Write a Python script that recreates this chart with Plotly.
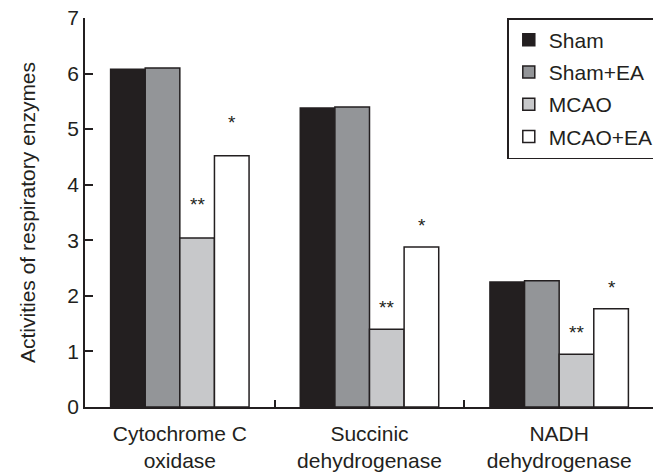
import plotly.graph_objects as go

categories = ["Cytochrome C<br>oxidase", "Succinic<br>dehydrogenase", "NADH<br>dehydrogenase"]
series_names = ["Sham", "Sham+EA", "MCAO", "MCAO+EA"]
sham = [6.08, 5.38, 2.25]
sham_ea = [6.10, 5.40, 2.27]
mcao = [3.04, 1.40, 0.95]
mcao_ea = [4.52, 2.88, 1.77]
mcao_sig = ["**", "**", "**"]
mcao_ea_sig = ["*", "*", "*"]
y_ticks = [0, 1, 2, 3, 4, 5, 6, 7]

colors = ["#231f20", "#939598", "#c7c8ca", "#ffffff"]
ink = "#231f20"
font_family = "Liberation Sans, Arial, sans-serif"
FS = 21

fig = go.Figure()
for name, vals, col in zip(series_names, [sham, sham_ea, mcao, mcao_ea], colors):
    fig.add_trace(go.Bar(
        x=categories, y=vals, name=name,
        marker=dict(color=col, line=dict(color=ink, width=1.5)),
        legendgroup=name,
    ))

# page body has an 8px default margin; size the figure to fit the window
W, H = 653, 466
ml, mr, mt, mb = 77, 2, 10, 67
bargap = 0.27
cat_w = (W - ml - mr) / len(categories)
bar_w = cat_w * (1 - bargap) / 4
extra = [12, 0, 0]
for i, c in enumerate(categories):
    for vals, sig, k in [(mcao, mcao_sig, 2), (mcao_ea, mcao_ea_sig, 3)]:
        fig.add_annotation(
            x=c, y=vals[i], text=sig[i], showarrow=False,
            xshift=(k - 1.5) * bar_w, yanchor="bottom", yshift=9 + extra[i],
            font=dict(size=19, color=ink, family=font_family),
        )

pw = W - ml - mr
ph = H - mt - mb
fig.update_layout(
    width=W, height=H,
    margin=dict(l=ml, r=mr, t=mt, b=mb),
    paper_bgcolor="white", plot_bgcolor="white",
    barmode="group", bargap=bargap, bargroupgap=0,
    font=dict(family=font_family, size=FS, color=ink),
    showlegend=True,
    legend=dict(
        x=(503 - ml) / pw, y=1.0,
        xanchor="left", yanchor="top",
        bgcolor="white", bordercolor=ink, borderwidth=1.5,
        font=dict(size=FS, color=ink, family=font_family),
        tracegroupgap=2, itemwidth=30,
    ),
    xaxis=dict(
        type="category", tickson="boundaries", ticks="inside", ticklen=7,
        tickwidth=1.5, tickcolor=ink,
        showline=True, linecolor=ink, linewidth=1.5,
        showgrid=False, tickfont=dict(size=FS), ticklabelstandoff=7,
        automargin=False, ticklabeloverflow="allow",
    ),
    yaxis=dict(
        range=[0, 7], tickvals=y_ticks, ticks="inside", ticklen=8,
        tickwidth=1.5, tickcolor=ink,
        showline=True, linecolor=ink, linewidth=1.5,
        showgrid=False, zeroline=False, tickfont=dict(size=FS),
        ticklabeloverflow="allow", automargin=False,
        title=dict(text="Activities of respiratory enzymes", font=dict(size=FS), standoff=26),
    ),
)

fig.write_html("out.html")
